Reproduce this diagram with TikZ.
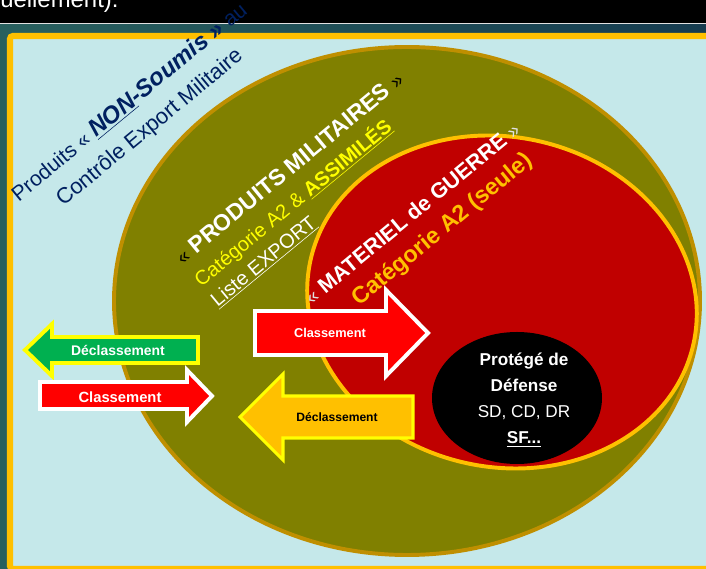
\documentclass[tikz,border=0pt]{standalone}
\usepackage{fontspec}
\setmainfont{Liberation Sans}
\definecolor{fond}{RGB}{197,232,234}
\definecolor{kaki}{RGB}{128,128,0}
\definecolor{orfonce}{RGB}{191,143,0}
\definecolor{rougem}{RGB}{192,0,0}
\definecolor{orclair}{RGB}{255,192,0}
\definecolor{marine}{RGB}{0,32,96}
\definecolor{jaunev}{RGB}{255,255,0}
\definecolor{vertf}{RGB}{0,176,80}
\definecolor{rougevif}{RGB}{255,0,0}
\definecolor{tealg}{RGB}{40,96,94}
\definecolor{teald}{RGB}{22,60,80}
\definecolor{grisc}{RGB}{225,225,225}

\begin{document}
\begin{tikzpicture}[x=0.025cm,y=-0.025cm,
  etiq/.style={rotate=39.5,inner sep=0pt},
  classe/.style={fill=rougevif,draw=white,line width=2.8pt},
  declvert/.style={fill=vertf,draw=jaunev,line width=2.8pt},
  decljaune/.style={fill=orclair,draw=jaunev,line width=2.2pt},
  txtfl/.style={inner sep=0pt,font=\bfseries\fontsize{#1}{12}\selectfont}]
\useasboundingbox (0,0) rectangle (706,569);
% bandeau du haut
\fill[black] (0,0) rectangle (706,23);
\begin{scope}
\clip (0,0) rectangle (706,23);
\node[anchor=base west,inner sep=0pt,text=white,font=\fontsize{17}{20}\selectfont] (entete) at (0,8) {uellement).};
\end{scope}
\fill[grisc] (0,23) rectangle (706,25);
\shade[left color=tealg,right color=teald] (0,25) rectangle (706,569);
\draw[draw=orclair,fill=fond,line width=4.3pt,rounded corners=2pt] (10,36) rectangle (712,569);
% ensembles
\draw[draw=orfonce,fill=kaki,line width=2.8pt] (407,301) ellipse [x radius=293,y radius=254];
\draw[draw=orclair,fill=rougem,line width=2.8pt,rotate around={-12:(502,302)}] (502,302) ellipse [x radius=196,y radius=165];
\fill[black] (517,398) ellipse [x radius=85,y radius=66];
% textes
\node[etiq,text=marine,font=\fontsize{15}{18}\selectfont] (nonsoumis) at (129,102)
  {Produits « {\bfseries\itshape\fontsize{17}{18}\selectfont\underline{NON}-Soumis »} au};
\node[etiq,text=marine,font=\fontsize{15.6}{18}\selectfont] (controle) at (150,128) {Contrôle Export Militaire};
\node[etiq,text=white,font=\bfseries\fontsize{16.3}{18}\selectfont] (prodmil) at (289,168)
  {{\mdseries\color{black}\fontsize{14}{14}\selectfont «} PRODUITS MILITAIRES {\mdseries\color{black}\fontsize{14}{14}\selectfont »}};
\node[etiq,text=jaunev,font=\fontsize{14.2}{16}\selectfont] (cata2) at (293,203) {Catégorie A2 \& \textbf{\underline{ASSIMILÉS}}};
\node[etiq,text=white,font=\fontsize{14.2}{16}\selectfont] (listeexp) at (264,262) {\underline{Liste EXPORT}};
\node[etiq,text=white,font=\bfseries\fontsize{15.3}{18}\selectfont] (matguerre) at (412,213)
  {{\mdseries\color{grisc}\fontsize{14}{14}\selectfont «} MATERIEL de GUERRE {\mdseries\color{grisc}\fontsize{14}{14}\selectfont »}};
\node[etiq,text=orclair,font=\bfseries\fontsize{16.6}{18}\selectfont] (seule) at (443,230) {Catégorie A2 (seule)};
\node[align=center,text=white,inner sep=0pt,font=\fontsize{12.2}{18.5}\selectfont] (protege) at (524,400)
  {\textbf{Protégé de}\\\textbf{Défense}\\SD, CD, DR\\\textbf{\underline{SF...}}};
% fleches
\draw[declvert] (198,337) -- (52,337) -- (52,324) -- (25,350) -- (52,376) -- (52,363) -- (198,363) -- cycle;
\node[txtfl=9.9,text=white] (decl1) at (118,350) {Déclassement};
\draw[classe] (40,382) -- (187,382) -- (187,370) -- (212,396) -- (187,422) -- (187,409) -- (40,409) -- cycle;
\node[txtfl=10.5,text=white] (class1) at (120,397) {Classement};
\draw[classe] (255,311) -- (386,311) -- (386,290) -- (428,333) -- (386,376) -- (386,355) -- (255,355) -- cycle;
\node[txtfl=9.1,text=white] (class2) at (330,333) {Classement};
\draw[decljaune] (413,396) -- (283,396) -- (283,374) -- (240,417) -- (283,460) -- (283,438) -- (413,438) -- cycle;
\node[txtfl=8.6,text=black] (decl2) at (337,417) {Déclassement};
\end{tikzpicture}
\end{document}
